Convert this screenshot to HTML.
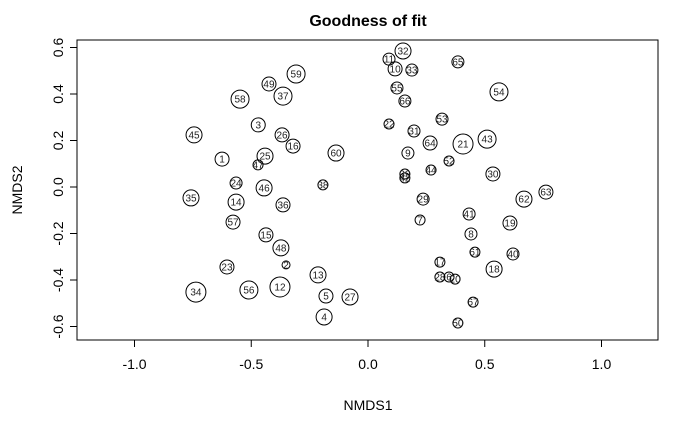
<!DOCTYPE html>
<html><head><meta charset="utf-8"><style>
html,body{margin:0;padding:0;background:#fff;}
svg{display:block;font-family:"Liberation Sans",Arial,sans-serif;}
</style></head><body>
<svg id="chart" width="700" height="432" viewBox="0 0 700 432" xmlns="http://www.w3.org/2000/svg">
<text x="368" y="26" text-anchor="middle" font-size="16" font-weight="bold">Goodness of fit</text>
<rect x="77" y="40" width="581" height="300" fill="none" stroke="#000" stroke-width="1"/>
<text x="368" y="410" text-anchor="middle" font-size="14">NMDS1</text>
<text transform="translate(22,190) rotate(-90)" text-anchor="middle" font-size="14">NMDS2</text>
<g id="axes"></g>
<g id="points"></g>
</svg>
<script>
const labels=["1","3","45","58","49","59","37","26","16","25","47","60","24","46","38","35","14","36","57","15","48","2","23","13","34","56","12","5","27","4","32","11","10","33","65","55","66","22","53","31","64","21","43","54","9","52","44","39","42","30","29","62","63","7","41","19","8","61","40","18","17","28","6","20","67","50"];
const xs=[-0.625,-0.47,-0.745,-0.548,-0.424,-0.308,-0.364,-0.368,-0.321,-0.441,-0.471,-0.137,-0.565,-0.445,-0.193,-0.758,-0.565,-0.364,-0.578,-0.437,-0.373,-0.351,-0.604,-0.214,-0.737,-0.51,-0.377,-0.18,-0.077,-0.188,0.15,0.09,0.116,0.188,0.385,0.124,0.158,0.09,0.317,0.197,0.266,0.407,0.51,0.561,0.171,0.347,0.27,0.158,0.158,0.535,0.236,0.668,0.762,0.223,0.433,0.608,0.441,0.458,0.621,0.54,0.308,0.308,0.347,0.373,0.45,0.385];
const ys=[0.12,0.267,0.224,0.378,0.443,0.486,0.391,0.224,0.176,0.133,0.095,0.146,0.017,-0.004,0.009,-0.047,-0.065,-0.077,-0.151,-0.206,-0.262,-0.335,-0.344,-0.378,-0.452,-0.443,-0.43,-0.469,-0.473,-0.559,0.585,0.55,0.508,0.503,0.538,0.426,0.37,0.271,0.292,0.241,0.189,0.185,0.206,0.409,0.146,0.112,0.073,0.056,0.039,0.056,-0.052,-0.052,-0.022,-0.142,-0.116,-0.155,-0.202,-0.28,-0.288,-0.353,-0.323,-0.387,-0.387,-0.396,-0.495,-0.585];
const fits=[7,7,8,9,7,9,9,7,7,8,5,8,6,8,5,8,8,7,7,7,8,4,7,8,10,9,10,7,8,8,8,6,7,6,6,6,6,5,6,6,7,10,9,9,6,5,5,5,5,7,6,8,7,5,6,7,6,5,6,8,5,5,5,5,5,5];
const xTicks=[-1.0,-0.5,0.0,0.5,1.0];
const yTicks=[-0.6,-0.4,-0.2,0.0,0.2,0.4,0.6];
const xTickLabels=["-1.0","-0.5","0.0","0.5","1.0"];
const yTickLabels=["-0.6","-0.4","-0.2","0.0","0.2","0.4","0.6"];
const NS="http://www.w3.org/2000/svg";
const sx=v=>368+v*233.5, sy=v=>187-v*232.5;
const axes=document.getElementById('axes'), pts=document.getElementById('points');
function mk(t,a,p){const e=document.createElementNS(NS,t);for(const k in a)e.setAttribute(k,a[k]);p.appendChild(e);return e;}
xTicks.forEach((v,i)=>{
 const l=mk('line',{x1:sx(v),x2:sx(v),y1:340,y2:347,stroke:'#000'},axes);
 
 
 const t=mk('text',{x:sx(v),y:369,'text-anchor':'middle','font-size':14},axes);
 
 
 t.textContent=xTickLabels[i];
});
yTicks.forEach((v,i)=>{
 const l=mk('line',{x1:70,x2:77,y1:sy(v),y2:sy(v),stroke:'#000'},axes);
 
 
 const t=mk('text',{transform:`translate(63,${sy(v)}) rotate(-90)`,'text-anchor':'middle','font-size':14},axes);
 
 
 t.textContent=yTickLabels[i];
});
labels.forEach((lab,i)=>{
 const g=mk('g',{},pts);
 
 
 mk('circle',{cx:sx(xs[i]),cy:sy(ys[i]),r:fits[i],fill:'none',stroke:'#000','stroke-width':1},g);
 const t=mk('text',{x:sx(xs[i]),y:sy(ys[i])+3.5,'text-anchor':'middle','font-size':10,fill:'#222'},g);
 t.textContent=lab;
});
</script>
</body></html>
